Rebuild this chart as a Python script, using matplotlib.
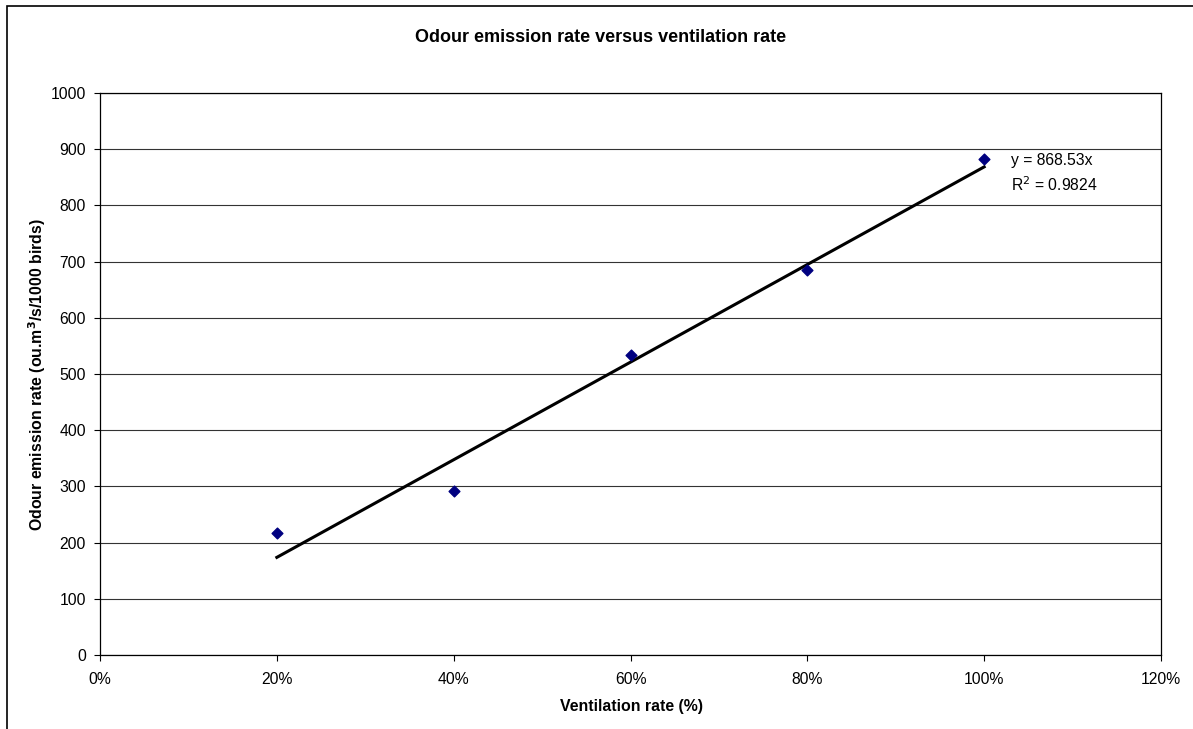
import matplotlib
matplotlib.use("Agg")
import matplotlib.pyplot as plt
import numpy as np
from matplotlib.patches import Rectangle

plt.rcParams['font.family'] = ['Liberation Sans', 'DejaVu Sans']

ventilation = [0.2, 0.4, 0.6, 0.8, 1.0]
odour = [217, 292, 534, 685, 883]
slope = 868.53
trend_x = [0.2, 1.0]
x_ticks = [0, 0.2, 0.4, 0.6, 0.8, 1.0, 1.2]
x_tick_labels = ['0%', '20%', '40%', '60%', '80%', '100%', '120%']
y_ticks = list(range(0, 1001, 100))

W, H = 1193, 729
fig = plt.figure(figsize=(W/100, H/100), dpi=100)
ax = fig.add_axes([100/W, 1-655/H, (1161-100)/W, (655-93)/H])

fig.patches.append(Rectangle((7/W, -0.1), 1.2, 1-6/H+0.1, transform=fig.transFigure,
                             fill=False, edgecolor='black', linewidth=1.2))

ax.set_xlim(0, 1.2)
ax.set_ylim(0, 1000)
ax.set_xticks(x_ticks)
ax.set_xticklabels(x_tick_labels)
ax.set_yticks(y_ticks)
ax.yaxis.grid(True, color='#333333', linewidth=0.8)
ax.set_axisbelow(True)
for s in ax.spines.values():
    s.set_color('black')
    s.set_linewidth(0.9)
ax.tick_params(axis='both', labelsize=11.3, length=4, width=0.8, color='black')
ax.tick_params(axis='x', pad=8)
ax.tick_params(axis='y', pad=6)

tx = np.array(trend_x)
ax.plot(tx, slope*tx, color='black', linewidth=2.2, zorder=3)
ax.scatter(ventilation, odour, marker='D', s=30, color='#000080', zorder=4)

ax.text(1.030, (655-161)/0.562, 'y = 868.53x', fontsize=11.3, va='center', ha='left')
ax.text(1.030, (655-185)/0.562, 'R$^2$ = 0.9824', fontsize=11.3, va='center', ha='left')

fig.text(601/W, 1-38/H, 'Odour emission rate versus ventilation rate',
         fontsize=13, fontweight='bold', ha='center', va='center')
fig.text(632/W, 1-706/H, 'Ventilation rate (%)', fontsize=11.4, fontweight='bold',
         ha='center', va='center')
fig.text(37/W, 1-374/H, 'Odour emission rate (ou.m$^\\mathbf{3}$/s/1000 birds)', fontsize=11.4,
         fontweight='bold', ha='center', va='center', rotation=90)

fig.savefig('out.png', dpi=100)
